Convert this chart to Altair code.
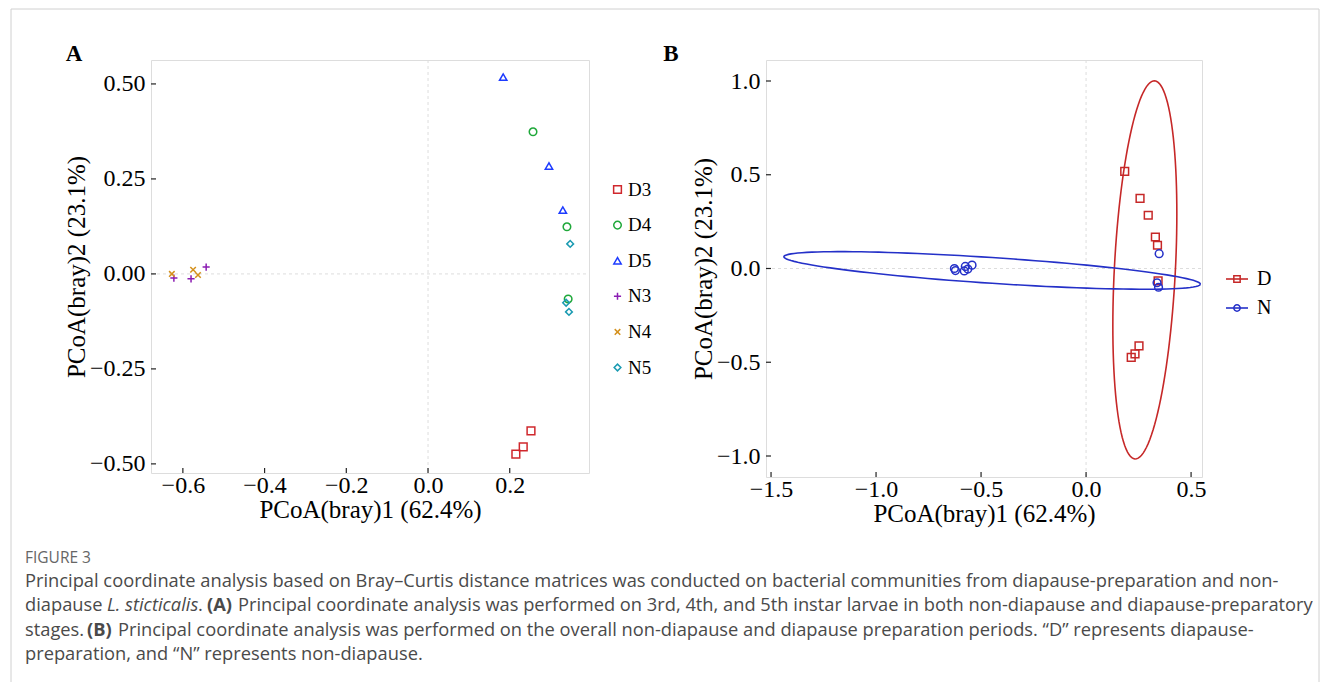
import altair as alt
import pandas as pd
import numpy as np

# ---------------- data ----------------
sample_group = ["D3", "D3", "D3", "D4", "D4", "D4", "D5", "D5", "D5",
                "N3", "N3", "N3", "N4", "N4", "N4", "N5", "N5", "N5"]
pc1 = [0.252, 0.233, 0.215, 0.257, 0.340, 0.343, 0.184, 0.296, 0.330,
       -0.622, -0.580, -0.543, -0.627, -0.575, -0.563, 0.348, 0.338, 0.345]
pc2 = [-0.413, -0.455, -0.474, 0.374, 0.124, -0.066, 0.518, 0.284, 0.168,
       -0.011, -0.013, 0.018, 0.000, 0.011, -0.003, 0.079, -0.076, -0.100]

group_names = ["D3", "D4", "D5", "N3", "N4", "N5"]
group_colors = ["#D0282D", "#1FA83A", "#1D3BFF", "#8B1DB3", "#D4901C", "#1B9BB2"]
group_shapes = ["square", "circle", "triangle-up",
                "M-1,0L1,0M0,-1L0,1",
                "M-0.8,-0.8L0.8,0.8M-0.8,0.8L0.8,-0.8",
                "diamond"]
group_sizes = [60, 45, 105, 170, 180, 90]

period_names = ["D", "N"]
period_colors = ["#C62828", "#2430C8"]
period_shapes = ["square", "circle"]

xticks_a = [-0.6, -0.4, -0.2, 0.0, 0.2]
yticks_a = [-0.50, -0.25, 0.0, 0.25, 0.50]
xticks_b = [-1.5, -1.0, -0.5, 0.0, 0.5]
yticks_b = [-1.0, -0.5, 0.0, 0.5, 1.0]

x_title = "PCoA(bray)1 (62.4%)"
y_title = "PCoA(bray)2 (23.1%)"

fig_label = "FIGURE 3"
cap_line1 = "Principal coordinate analysis based on Bray\u2013Curtis distance matrices was conducted on bacterial communities from diapause-preparation and non-"
cap_line2 = ["diapause", "L. sticticalis", ".", "(A)",
             "Principal coordinate analysis was performed on 3rd, 4th, and 5th instar larvae in both non-diapause and diapause-preparatory"]
cap_line3 = ["stages.", "(B)",
             "Principal coordinate analysis was performed on the overall non-diapause and diapause preparation periods. \u201cD\u201d represents diapause-"]
cap_line4 = "preparation, and \u201cN\u201d represents non-diapause."

df = pd.DataFrame({"group": sample_group, "pc1": pc1, "pc2": pc2})
df["period"] = df["group"].str[0]

# 95% t-ellipse (as ggplot2 stat_ellipse, MASS::cov.trob)
def cov_trob(X, nu=5, maxit=25, tol=0.01):
    n, p = X.shape
    wt = np.ones(n)
    loc = X.mean(axis=0)
    w = np.sqrt(wt)
    Xc = X - loc
    for _ in range(maxit):
        w0 = w
        Xc = X - loc
        A = np.sqrt(w / w.sum())[:, None] * Xc
        _, d, Vt = np.linalg.svd(A, full_matrices=False)
        wX = Xc @ Vt.T @ np.diag(1.0 / d)
        Q = (wX ** 2).sum(axis=1)
        w = (wt * (nu + p)) / (nu + Q)
        loc = (w[:, None] * X).sum(axis=0) / w.sum()
        if np.all(np.abs(w - w0) < tol):
            break
    S = np.sqrt(w)[:, None] * Xc
    cov = S.T @ S / wt.sum()
    return loc, cov

ell_rows = []
for per in period_names:
    sub = df[df["period"] == per][["pc1", "pc2"]].to_numpy()
    n = len(sub)
    center, cov = cov_trob(sub)
    dfd = n - 1
    fq = (dfd / 2.0) * ((1 - 0.95) ** (-2.0 / dfd) - 1)
    radius = np.sqrt(2 * fq)
    R = np.linalg.cholesky(cov).T
    ang = np.linspace(0, 2 * np.pi, 121)
    circ = np.column_stack([np.cos(ang), np.sin(ang)])
    pts = center + radius * (circ @ R)
    for i, (ex, ey) in enumerate(pts):
        ell_rows.append({"period": per, "ex": ex, "ey": ey, "i": i})
ell = pd.DataFrame(ell_rows)

# ---------------- styling ----------------
SERIF = "Liberation Serif"
SANS = "Open Sans"
AX = "#222222"
CAP = 18.3
CAPCOL = "#4a4a4a"

WA, HA = 438, 413
WB, HB = 436, 417
x_dom_a = [-0.678, 0.394]
y_dom_a = [-0.524, 0.563]
x_dom_b = [-1.524, 0.552]
y_dom_b = [-1.112, 1.112]

def axis(vals, fmt, title, lpad, tpad):
    return alt.Axis(values=vals, format=fmt, title=title, ticks=False, tickSize=0,
                    domain=False, grid=False, labelFont=SERIF, labelFontSize=24,
                    labelColor="black", labelPadding=lpad, titleFont=SERIF,
                    titleFontSize=25, titleFontWeight="normal", titleColor="black",
                    titlePadding=tpad)

ax_xa = axis(xticks_a, ".1f", x_title, 0, 0)
ax_ya = axis(yticks_a, ".2f", y_title, 6, 0)
ax_xb = axis(xticks_b, ".1f", x_title, 0, 0)
ax_yb = axis(yticks_b, ".1f", y_title, 6, 0)

def ticks_layer(data_x, data_y, xs, ys, axx, axy, h):
    tx = alt.Chart(pd.DataFrame({"v": data_x})).mark_rule(color=AX, strokeWidth=1.2).encode(
        x=alt.X("v:Q", scale=xs, axis=axx), y=alt.value(h), y2=alt.value(h - 5))
    ty = alt.Chart(pd.DataFrame({"v": data_y})).mark_rule(color=AX, strokeWidth=1.2).encode(
        y=alt.Y("v:Q", scale=ys, axis=axy), x=alt.value(0), x2=alt.value(5))
    return tx, ty

def zero_lines(xs, ys, axx, axy, w, h):
    zx = alt.Chart(pd.DataFrame({"z": [0.0]})).mark_rule(
        color="#dddddd", strokeDash=[3, 3], strokeWidth=1).encode(
        x=alt.X("z:Q", scale=xs, axis=axx), y=alt.value(0), y2=alt.value(h))
    zy = alt.Chart(pd.DataFrame({"z": [0.0]})).mark_rule(
        color="#dddddd", strokeDash=[3, 3], strokeWidth=1).encode(
        y=alt.Y("z:Q", scale=ys, axis=axy), x=alt.value(0), x2=alt.value(w))
    return zx, zy

def text_mark(txt, x, y, size=CAP, font=SANS, color=CAPCOL, weight="normal",
              style="normal", align="left", angle=0):
    return alt.Chart(pd.DataFrame({"t": [txt]})).mark_text(
        font=font, fontSize=size, color=color, fontWeight=weight, fontStyle=style,
        align=align, baseline="middle", angle=angle).encode(
        x=alt.value(x), y=alt.value(y), text="t:N")

# ---------------- panel A ----------------
xs_a = alt.Scale(domain=x_dom_a, nice=False, zero=False)
ys_a = alt.Scale(domain=y_dom_a, nice=False, zero=False)
zxa, zya = zero_lines(xs_a, ys_a, ax_xa, ax_ya, WA, HA)
txa, tya = ticks_layer(xticks_a, yticks_a, xs_a, ys_a, ax_xa, ax_ya, HA)

leg_a = alt.Legend(title=None, orient="none", legendX=457, legendY=120,
                   labelFont=SERIF, labelFontSize=19, labelColor="black",
                   symbolSize=80, symbolStrokeWidth=1.5, rowPadding=15.6,
                   labelOffset=1, padding=0)

pts_a = alt.Chart(df).mark_point(filled=False, strokeWidth=1.5, opacity=1).encode(
    x=alt.X("pc1:Q", scale=xs_a, axis=ax_xa),
    y=alt.Y("pc2:Q", scale=ys_a, axis=ax_ya),
    color=alt.Color("group:N", scale=alt.Scale(domain=group_names, range=group_colors), legend=leg_a),
    shape=alt.Shape("group:N", scale=alt.Scale(domain=group_names, range=group_shapes), legend=leg_a),
    size=alt.Size("group:N", scale=alt.Scale(domain=group_names, range=group_sizes), legend=None),
)

OX, OY = 150, 59  # panel A plot origin on page (used only for decoration placement)
frame_col = "#d0d0d0"
frame_l = alt.Chart(pd.DataFrame({"a": [0]})).mark_rule(color=frame_col, strokeWidth=1).encode(
    x=alt.value(10 - OX), y=alt.value(8 - OY), y2=alt.value(681 - OY))
frame_t = alt.Chart(pd.DataFrame({"a": [0]})).mark_rule(color=frame_col, strokeWidth=1).encode(
    x=alt.value(10 - OX), x2=alt.value(1318 - OX), y=alt.value(8 - OY))
frame_r = alt.Chart(pd.DataFrame({"a": [0]})).mark_rule(color=frame_col, strokeWidth=1).encode(
    x=alt.value(1318 - OX), y=alt.value(8 - OY), y2=alt.value(681 - OY))

lab_a = text_mark("A", 73 - OX, 53 - OY, size=23, font=SERIF, color="black",
                  weight="bold", align="center")

cap = [
    text_mark(fig_label, 24 - OX, 557 - OY, size=15.5, color="#666666"),
    text_mark(cap_line1, 24 - OX, 581 - OY),
    text_mark(cap_line2[0], 24 - OX, 605 - OY),
    text_mark(cap_line2[1], 106 - OX, 605 - OY, style="italic"),
    text_mark(cap_line2[2], 197 - OX, 605 - OY),
    text_mark(cap_line2[3], 206 - OX, 605 - OY, weight="bold"),
    text_mark(cap_line2[4], 237 - OX, 605 - OY),
    text_mark(cap_line3[0], 24 - OX, 630 - OY),
    text_mark(cap_line3[1], 86 - OX, 630 - OY, weight="bold"),
    text_mark(cap_line3[2], 117 - OX, 630 - OY),
    text_mark(cap_line4, 24 - OX, 654 - OY),
]

panel_a = alt.layer(zxa, zya, pts_a, txa, tya, frame_l, frame_t, frame_r, lab_a, *cap).properties(
    width=WA, height=HA)

# ---------------- panel B ----------------
BX = 765
xs_b = alt.Scale(domain=x_dom_b, nice=False, zero=False)
ys_b = alt.Scale(domain=y_dom_b, nice=False, zero=False)
zxb, zyb = zero_lines(xs_b, ys_b, ax_xb, ax_yb, WB, HB)
txb, tyb = ticks_layer(xticks_b, yticks_b, xs_b, ys_b, ax_xb, ax_yb, HB)

ell_b = alt.Chart(ell).mark_line(strokeWidth=1.6).encode(
    x=alt.X("ex:Q", scale=xs_b, axis=ax_xb),
    y=alt.Y("ey:Q", scale=ys_b, axis=ax_yb),
    color=alt.Color("period:N", scale=alt.Scale(domain=period_names, range=period_colors), legend=None),
    detail="period:N",
    order="i:Q",
)
pts_b = alt.Chart(df).mark_point(filled=False, strokeWidth=1.5, opacity=1, size=60).encode(
    x=alt.X("pc1:Q", scale=xs_b, axis=ax_xb),
    y=alt.Y("pc2:Q", scale=ys_b, axis=ax_yb),
    color=alt.Color("period:N", scale=alt.Scale(domain=period_names, range=period_colors), legend=None),
    shape=alt.Shape("period:N", scale=alt.Scale(domain=period_names, range=period_shapes), legend=None),
)

leg_items = []
leg_y = [278, 307]
for k, per in enumerate(period_names):
    ly = leg_y[k] - OY
    leg_items.append(alt.Chart(pd.DataFrame({"a": [0]})).mark_rule(
        color=period_colors[k], strokeWidth=1.6).encode(
        x=alt.value(1225 - BX), x2=alt.value(1247 - BX), y=alt.value(ly)))
    leg_items.append(alt.Chart(pd.DataFrame({"a": [0]})).mark_point(
        shape=period_shapes[k], filled=False, color=period_colors[k], size=40,
        strokeWidth=1.5, opacity=1).encode(x=alt.value(1236 - BX), y=alt.value(ly)))
    leg_items.append(text_mark(per, 1256 - BX, ly, size=20, font=SERIF, color="black"))

lab_b = text_mark("B", 670 - BX, 53 - OY, size=23, font=SERIF, color="black",
                  weight="bold", align="center")

panel_b = alt.layer(zxb, zyb, ell_b, pts_b, txb, tyb, lab_b, *leg_items).properties(
    width=WB, height=HB)

chart = alt.hconcat(panel_a, panel_b, spacing=BX - (OX + WA), bounds="flush").resolve_scale(
    color="independent", shape="independent", size="independent"
).resolve_legend(color="independent", shape="independent", size="independent").properties(
    padding={"left": 2, "top": 0, "right": 0, "bottom": 0}
).configure_view(stroke=AX, strokeWidth=1.2).configure(background="white")

chart.save("out.html", embed_options={"renderer": "svg", "actions": False})
